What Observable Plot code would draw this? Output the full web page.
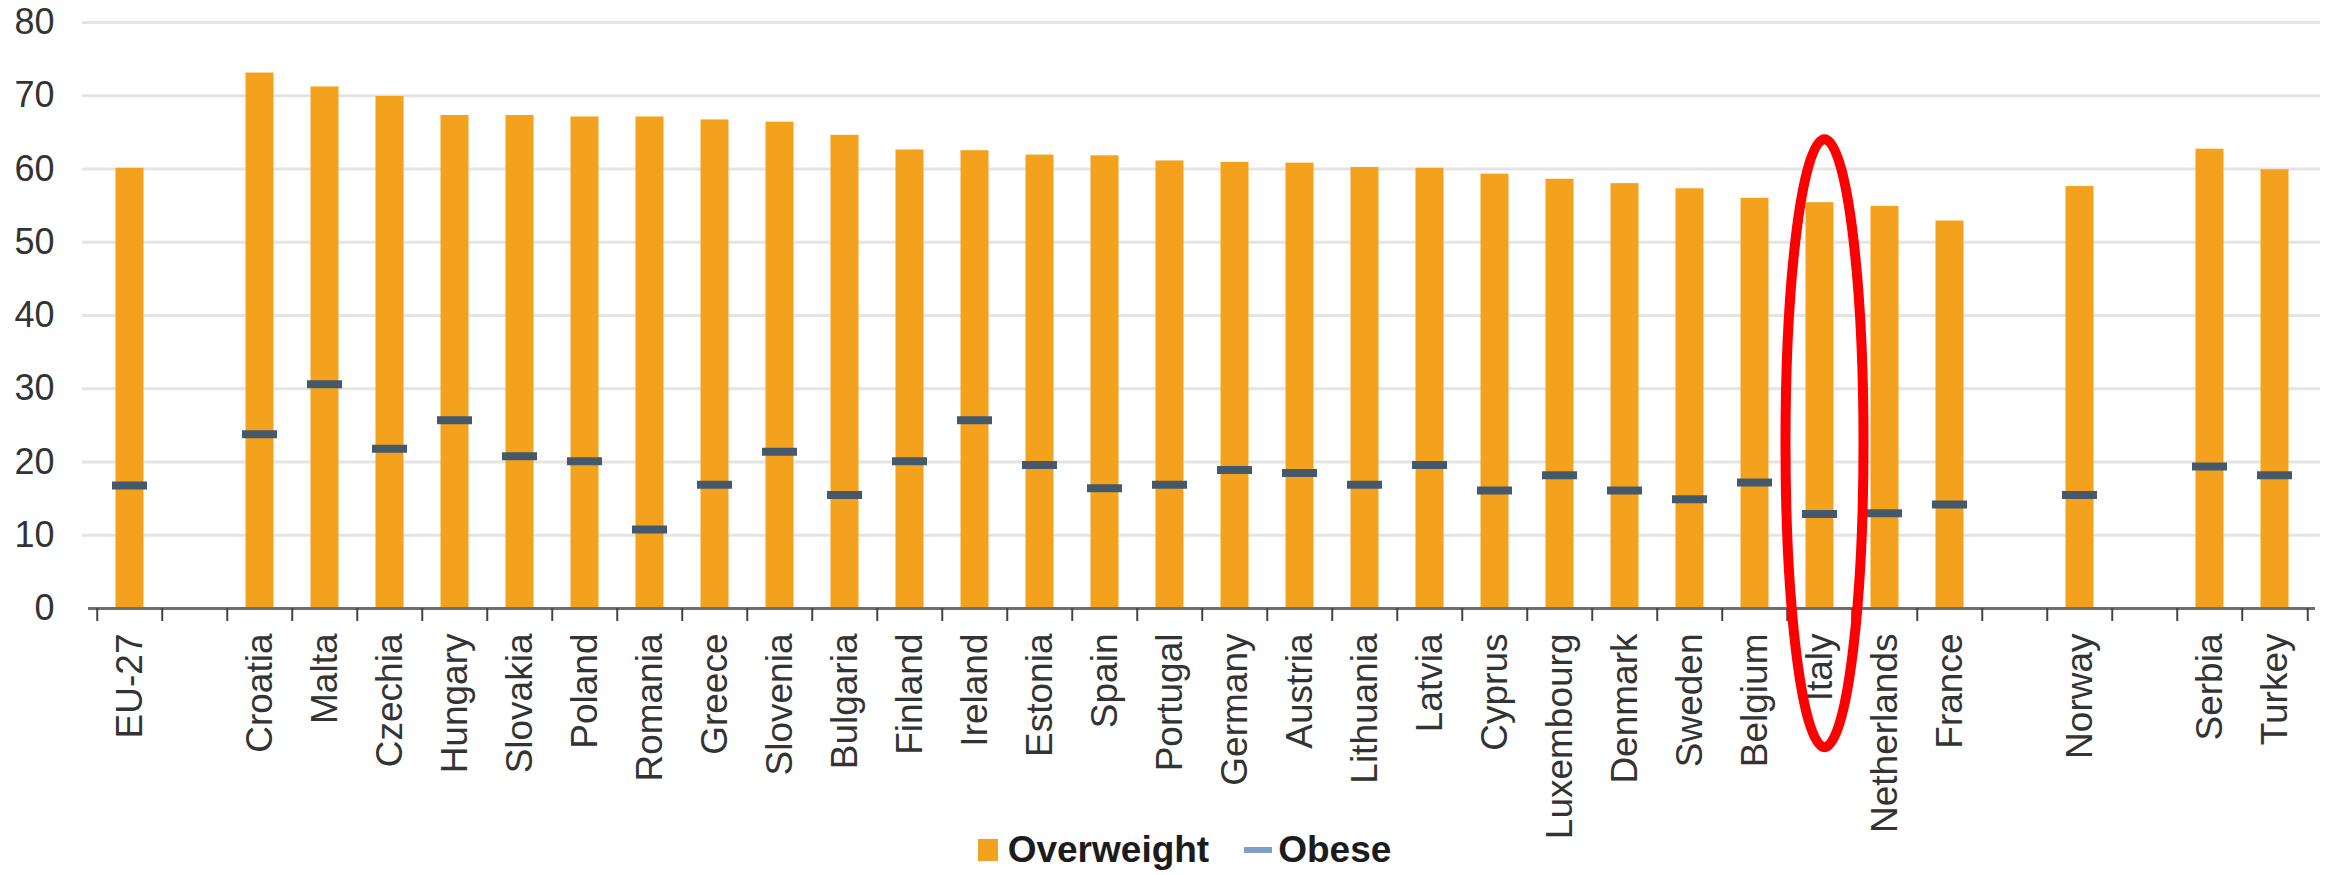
<!DOCTYPE html>
<html>
<head>
<meta charset="utf-8">
<script src="https://cdn.jsdelivr.net/npm/d3@7"></script>
<script src="https://cdn.jsdelivr.net/npm/@observablehq/plot@0.6"></script>
<style>
  html, body { margin: 0; padding: 0; background: #fff; }
  #chart svg { display: block; overflow: visible; }
  .legend {
    width: 2349px; height: 55px; box-sizing: border-box; padding: 5px 0 0 20px;
    display: flex; justify-content: center; align-items: center;
    font-family: "Liberation Sans", Arial, sans-serif; font-weight: bold; font-size: 37px;
    color: #1c1c1c; line-height: 50px;
  }
  .legend .sw-bar { width: 20px; height: 22px; background: #f4a21d; margin-right: 10px; }
  .legend .sw-line { width: 28px; height: 6px; background: #7f9fc6; margin: 0 6px 0 35px; }
</style>
</head>
<body>
<div id="chart"></div>
<div class="legend">
  <span class="sw-bar"></span><span>Overweight</span>
  <span class="sw-line"></span><span>Obese</span>
</div>
<script>
// Share of adults who are overweight / obese (%), by country
const countries = [
  "EU-27", "Croatia", "Malta", "Czechia", "Hungary", "Slovakia", "Poland", "Romania",
  "Greece", "Slovenia", "Bulgaria", "Finland", "Ireland", "Estonia", "Spain", "Portugal",
  "Germany", "Austria", "Lithuania", "Latvia", "Cyprus", "Luxembourg", "Denmark", "Sweden",
  "Belgium", "Italy", "Netherlands", "France", "Norway", "Serbia", "Turkey"
];
const overweight = [
  60.1, 73.1, 71.2, 69.9, 67.3, 67.3, 67.1, 67.1,
  66.7, 66.4, 64.6, 62.6, 62.5, 61.9, 61.8, 61.1,
  60.9, 60.8, 60.2, 60.1, 59.3, 58.6, 58.0, 57.3,
  56.0, 55.4, 54.9, 52.9, 57.6, 62.7, 59.9
];
const obese = [
  16.8, 23.8, 30.6, 21.8, 25.7, 20.8, 20.1, 10.8,
  16.9, 21.4, 15.5, 20.1, 25.7, 19.6, 16.4, 16.9,
  18.9, 18.5, 16.9, 19.6, 16.1, 18.2, 16.1, 14.9,
  17.2, 12.9, 13.0, 14.2, 15.5, 19.4, 18.2
];
// Category slots along the axis; the gap entries stay empty
const slots = [
  "EU-27", "gap-1", "Croatia", "Malta", "Czechia", "Hungary", "Slovakia", "Poland", "Romania",
  "Greece", "Slovenia", "Bulgaria", "Finland", "Ireland", "Estonia", "Spain", "Portugal",
  "Germany", "Austria", "Lithuania", "Latvia", "Cyprus", "Luxembourg", "Denmark", "Sweden",
  "Belgium", "Italy", "Netherlands", "France", "gap-2", "Norway", "gap-3", "Serbia", "Turkey"
];
const yTicks = [0, 10, 20, 30, 40, 50, 60, 70, 80];
const highlighted = ["Italy"];

const data = countries.map((c, i) => ({country: c, overweight: overweight[i], obese: obese[i]}));

const W = 2349, H = 820;
const mL = 88, mR = 34, mT = 22, mB = 212;
const step = (W - mL - mR) / slots.length;

// Red ring drawn around the highlighted countries
function ring(names) {
  return (index, {x, y}) => {
    const g = d3.create("svg:g");
    for (const name of names) {
      const cx = x(name) + x.bandwidth() / 2 + 5;
      const yTop = y(64), yBottom = y(-19);
      g.append("ellipse")
        .attr("cx", cx)
        .attr("cy", (yTop + yBottom) / 2)
        .attr("rx", 39)
        .attr("ry", (yBottom - yTop) / 2)
        .attr("fill", "none")
        .attr("stroke", "#ff0000")
        .attr("stroke-width", 10);
    }
    return g.node();
  };
}

const chart = Plot.plot({
  width: W,
  height: H,
  marginLeft: mL,
  marginRight: mR,
  marginTop: mT,
  marginBottom: mB,
  style: {fontFamily: "'Liberation Sans', Arial, sans-serif", background: "#fff", color: "#333", overflow: "visible"},
  x: {type: "band", domain: slots, paddingInner: 0, paddingOuter: 0, label: null},
  y: {domain: [0, 80], label: null},
  marks: [
    Plot.ruleY(yTicks.filter(d => d > 0), {stroke: "#e4e4e4", strokeWidth: 3, insetLeft: -6, insetRight: -5}),
    Plot.barY(data, {x: "country", y: "overweight", fill: "#f4a21d", insetLeft: 18.5, insetRight: 18.5}),
    Plot.tickY(data, {x: "country", y: "obese", stroke: "#44596b", strokeWidth: 8, insetLeft: 15, insetRight: 15}),
    Plot.ruleY([0], {stroke: "#6e6e6e", strokeWidth: 3}),
    // boundary ticks between category slots
    Plot.ruleX(slots, {x: d => d, dx: -step / 2, y1: 0, y2: 0, insetBottom: -13, stroke: "#444", strokeWidth: 2}),
    Plot.ruleX(slots.slice(-1), {x: d => d, dx: step / 2, y1: 0, y2: 0, insetBottom: -13, stroke: "#444", strokeWidth: 2}),
    Plot.axisY({ticks: yTicks, tickSize: 0, tickPadding: 34, fontSize: 36, fill: "#333", label: null}),
    Plot.axisX({
      tickSize: 0, tickRotate: -90, tickPadding: 25, fontSize: 37, fill: "#333", label: null,
      tickFormat: d => d.startsWith("gap") ? "" : d
    }),
    ring(highlighted)
  ]
});

document.getElementById("chart").appendChild(chart);
</script>
</body>
</html>
